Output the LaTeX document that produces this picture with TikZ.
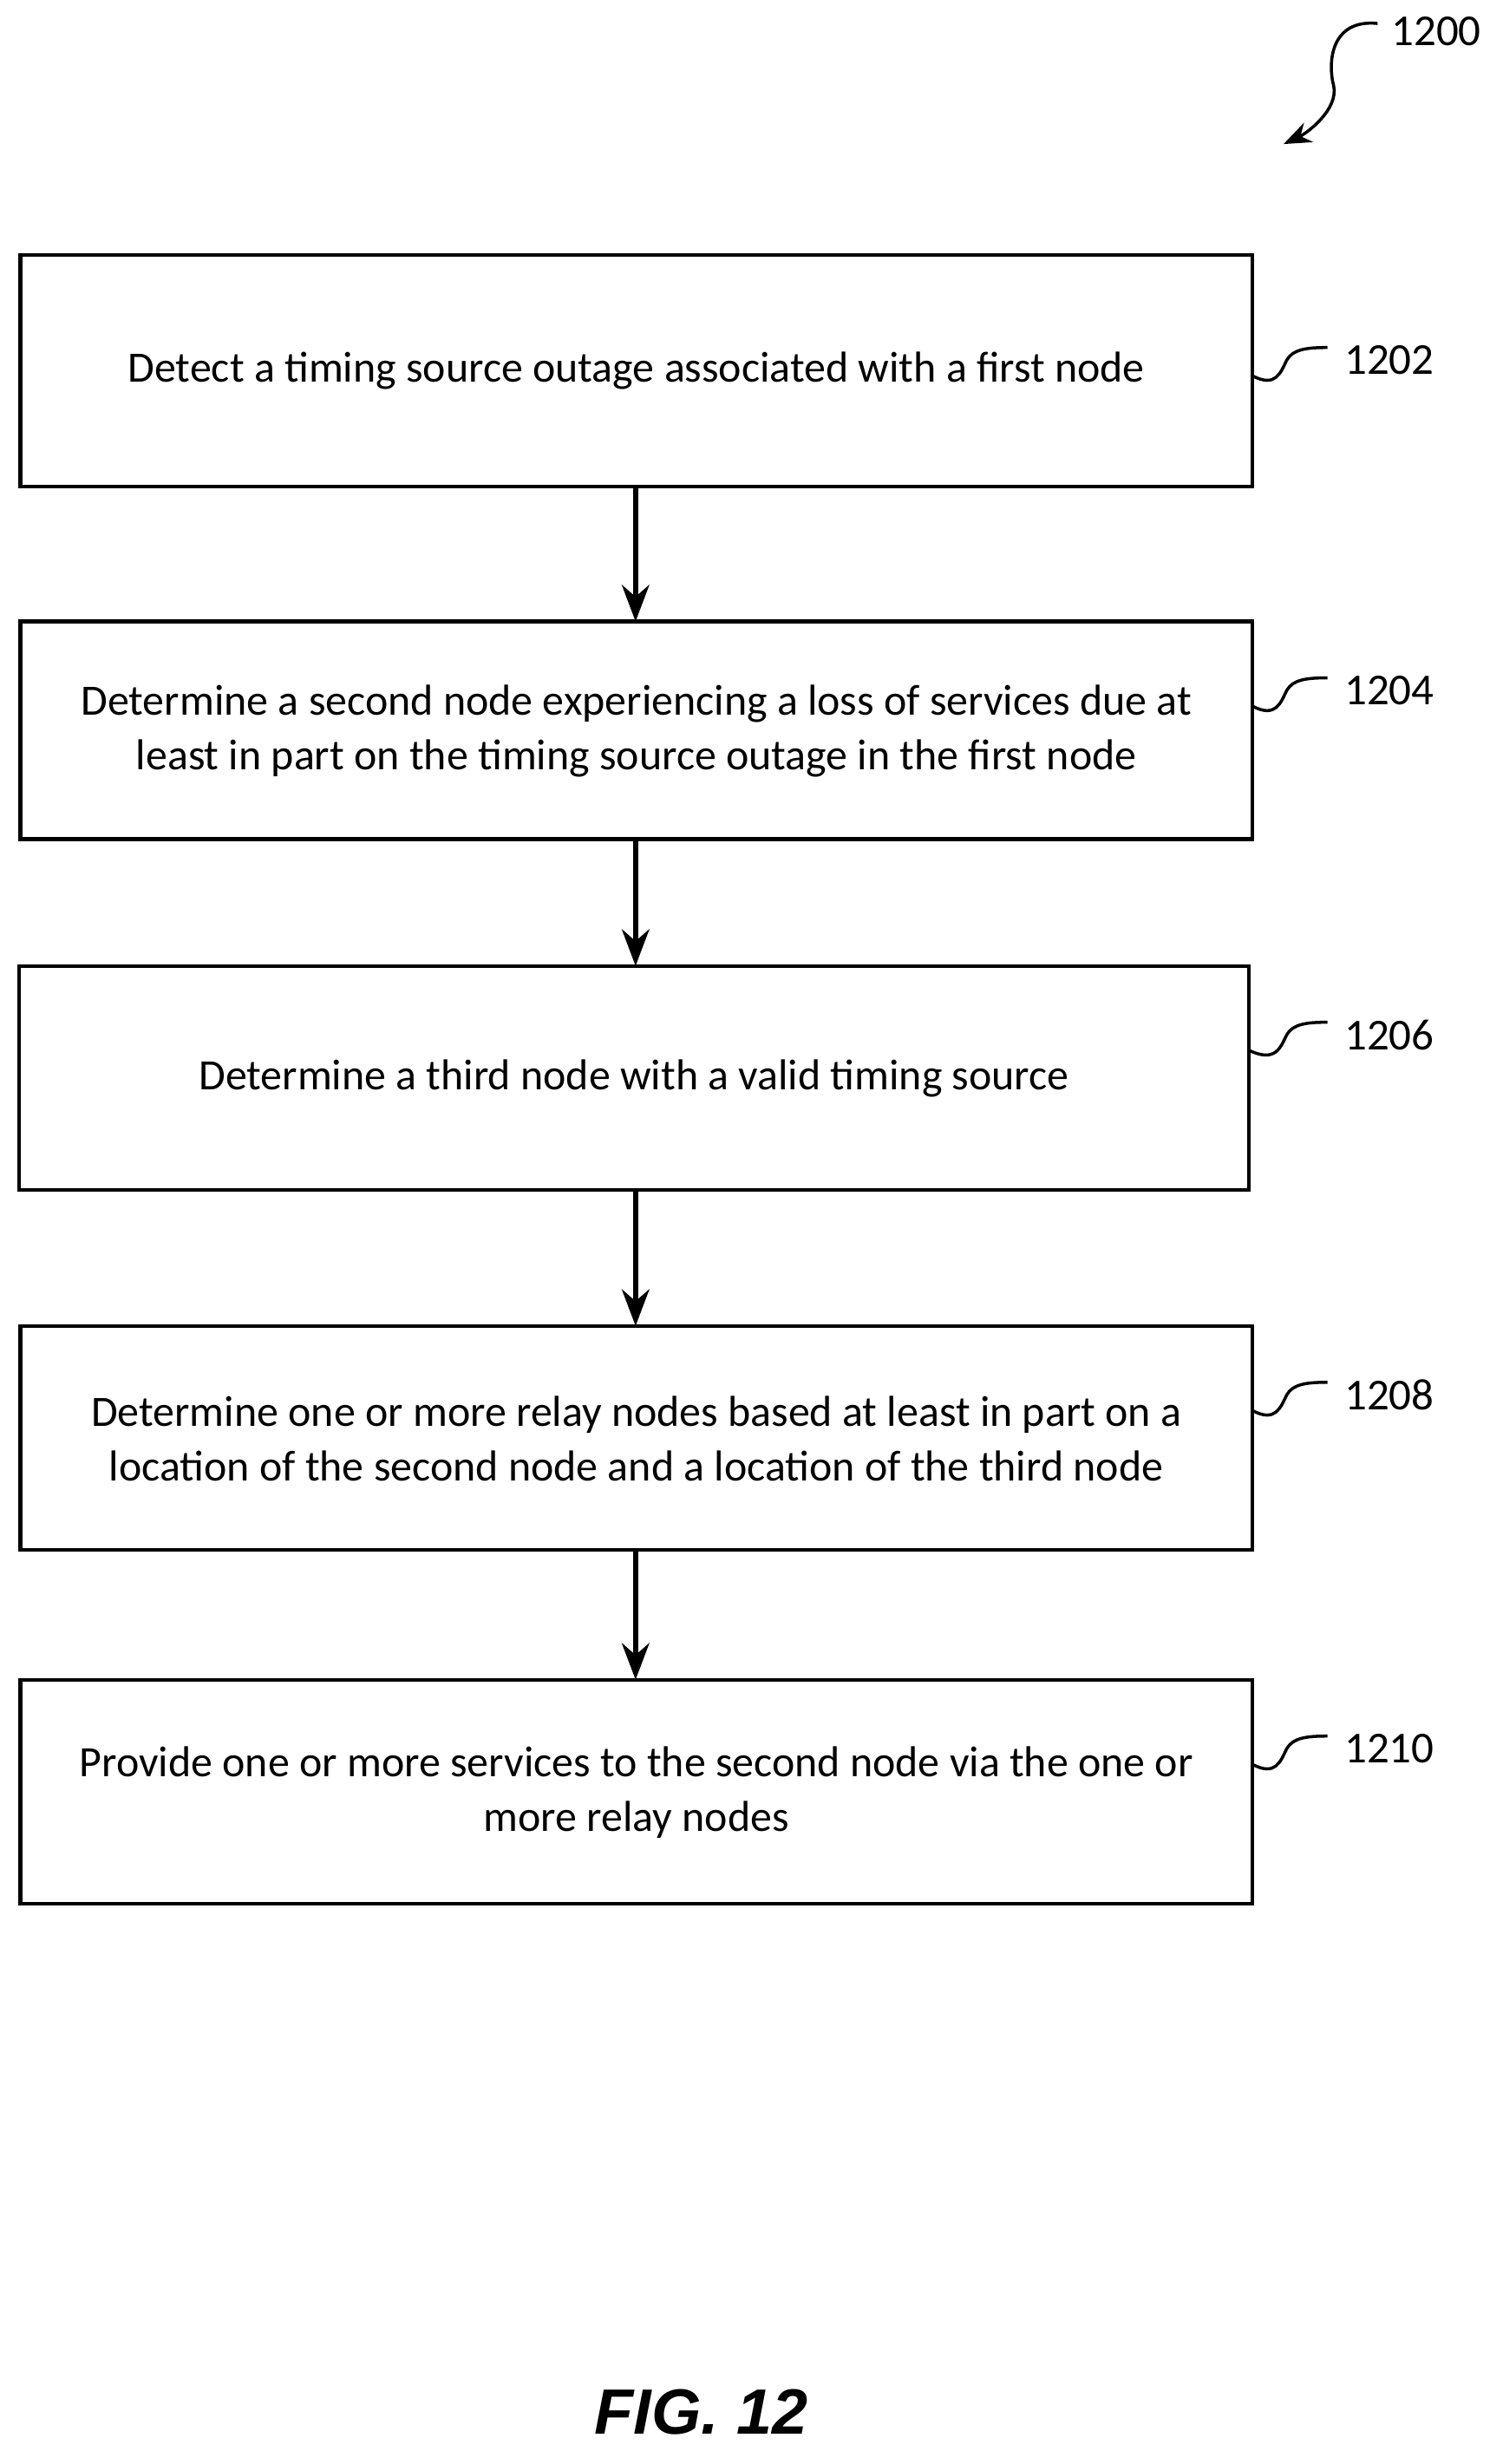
\documentclass[tikz,border=0pt]{standalone}
\usepackage{fontspec}
\setmainfont{Carlito}
\setsansfont{Liberation Sans}
\usetikzlibrary{arrows.meta}
\begin{document}
\begin{tikzpicture}[x=0.01805cm,y=-0.01805cm,
  txt/.style={font=\fontsize{14.2}{18}\selectfont,align=center},
  arr/.style={-{Stealth[length=12pt,width=9pt]},line width=1.6pt},
  lbl/.style={font=\fontsize{14.5}{17}\selectfont,anchor=west},
  sq/.style={line width=1pt}]
\useasboundingbox (0,0) rectangle (960,1574);
\path[draw,line width=1.2pt] (13,163) rectangle (800,311);
\node[txt] (b1) at (406.5,237) {Detect a timing source outage associated with a first node};
\path[draw,line width=1.2pt] (13,397) rectangle (800,536);
\node[txt] (b2) at (406.5,467) {Determine a second node experiencing a loss of services due at\\least in part on the timing source outage in the first node};
\path[draw,line width=1.2pt] (12,617) rectangle (798,760);
\node[txt] (b3) at (405,689) {Determine a third node with a valid timing source};
\path[draw,line width=1.2pt] (13,847) rectangle (800,990);
\node[txt] (b4) at (406.5,919) {Determine one or more relay nodes based at least in part on a\\location of the second node and a location of the third node};
\path[draw,line width=1.2pt] (13,1073) rectangle (800,1216);
\node[txt] (b5) at (406.5,1145) {Provide one or more services to the second node via the one or\\more relay nodes};
\coordinate (a1) at (406,311); \coordinate (a2) at (406,397);
\coordinate (a3) at (406,536); \coordinate (a4) at (406,617);
\coordinate (a5) at (406,760); \coordinate (a6) at (406,847);
\coordinate (a7) at (406,990); \coordinate (a8) at (406,1073);
\draw[arr] (a1) -- (a2);
\draw[arr] (a3) -- (a4);
\draw[arr] (a5) -- (a6);
\draw[arr] (a7) -- (a8);
\foreach \y/\t/\x in {230/1202/800,441/1204/800,661/1206/798,891/1208/800,1117/1210/800}{
  \draw[sq] (\x,\y+10) .. controls (815,\y+18) and (818,\y+8) .. (822,\y) .. controls (826,\y-7) and (835,\y-8) .. (848,\y-8);
  \node[lbl] (l\t) at (852,\y) {\t};
}
\coordinate (s0) at (880,15);
\coordinate (s1) at (820,92);
\draw[sq,-{Stealth[length=9pt,width=7pt]}] (s0) .. controls (850,12) and (848,40) .. (852,55) .. controls (855,70) and (835,85) .. (s1);
\node[lbl] (l1200) at (882,20) {1200};
\node[font=\sffamily\bfseries\itshape\fontsize{21}{24}\selectfont] (fig) at (448,1541) {FIG. 12};
\end{tikzpicture}
\end{document}
